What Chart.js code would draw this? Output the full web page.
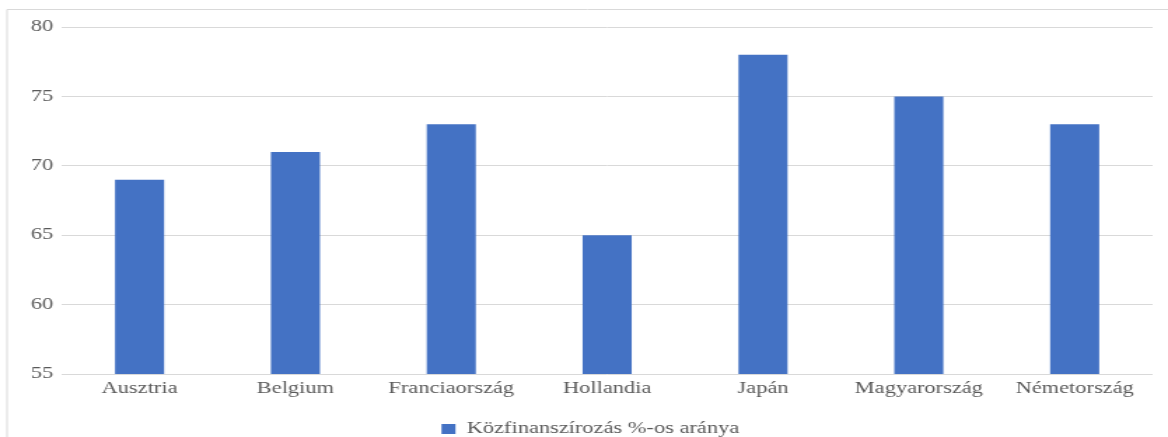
<!DOCTYPE html>
<html lang="hu">
<head>
<meta charset="utf-8">
<title>Közfinanszírozás %-os aránya</title>
<script src="https://cdn.jsdelivr.net/npm/chart.js@4"></script>
<style>
  html, body { margin: 0; padding: 0; background: #ffffff; overflow: hidden; }
  #wrap { width: 1168px; height: 437px; overflow: hidden; }
  /* the figure is laid out at a narrower width and widened horizontally */
  #chart { display: block; transform: scaleX(1.4005); transform-origin: 0 0; }
</style>
</head>
<body>
<div id="wrap">
  <canvas id="chart" width="834" height="437"></canvas>
</div>
<script>
// Categories and values
const countries = ['Ausztria', 'Belgium', 'Franciaország', 'Hollandia', 'Japán', 'Magyarország', 'Németország'];
const publicShare = [69, 71, 73, 65, 78, 75, 73];
const seriesName = 'Közfinanszírozás %-os aránya';
const yMin = 55;
const yMax = 80;
const yStep = 5;

const textColor = '#595959';
const gridColor = '#d9d9d9';
const barColor = '#4472c4';
const fontFamily = '"Liberation Serif", "Times New Roman", serif';

// thin frame around the figure (left and top edges visible)
const framePlugin = {
  id: 'frame',
  afterLayout(chart) {
    // nudge the legend a little to the right
    if (chart.legend) {
      chart.legend.left += 10;
      chart.legend.right += 10;
    }
  },
  beforeDraw(chart) {
    const ctx = chart.ctx;
    ctx.save();
    ctx.strokeStyle = gridColor;
    ctx.lineWidth = 1;
    ctx.beginPath();
    ctx.moveTo(5, chart.height);
    ctx.lineTo(5, 9.5);
    ctx.lineTo(chart.width, 9.5);
    ctx.stroke();
    ctx.restore();
  }
};

new Chart(document.getElementById('chart'), {
  type: 'bar',
  data: {
    labels: countries,
    datasets: [{
      label: seriesName,
      data: publicShare,
      backgroundColor: barColor,
      borderWidth: 0,
      categoryPercentage: 1,
      barPercentage: 0.315
    }]
  },
  options: {
    responsive: false,
    animation: false,
    devicePixelRatio: 1,
    layout: { padding: { left: 0, right: 11, top: 27, bottom: -10 } },
    plugins: {
      legend: {
        position: 'bottom',
        labels: {
          color: textColor,
          font: { family: fontFamily, size: 16 },
          boxWidth: 10,
          boxHeight: 10,
          padding: 3
        }
      },
      tooltip: { enabled: false }
    },
    scales: {
      x: {
        grid: { display: false },
        border: { display: false },
        ticks: {
          color: textColor,
          font: { family: fontFamily, size: 16 },
          padding: -3,
          maxRotation: 0,
          autoSkip: false
        },
        afterFit(scale) { scale.height = 44; }
      },
      y: {
        min: yMin,
        max: yMax,
        grid: { color: gridColor, lineWidth: 1, drawTicks: false },
        border: { display: false },
        ticks: {
          stepSize: yStep,
          color: textColor,
          font: { family: fontFamily, size: 16 },
          padding: 6
        },
        afterFit(scale) { scale.width = 44; }
      }
    }
  },
  plugins: [framePlugin]
});
</script>
</body>
</html>
